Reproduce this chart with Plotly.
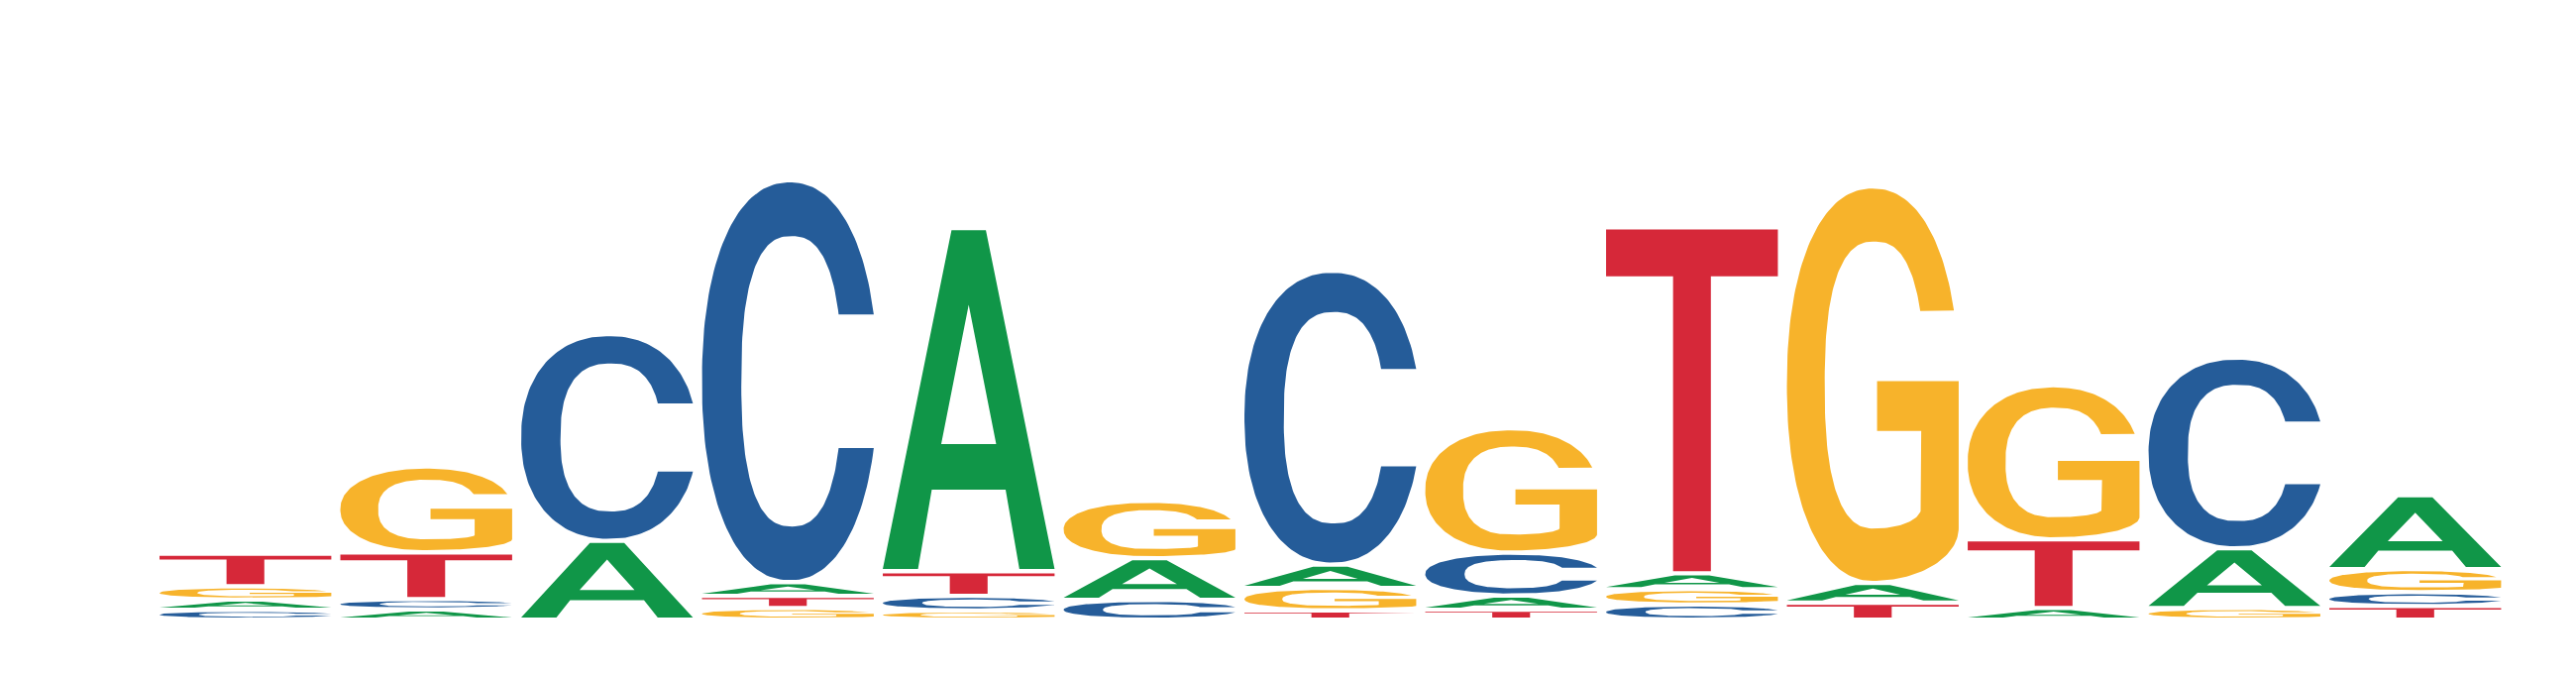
import numpy as np
import plotly.graph_objects as go

# sequence logo, 13 positions, letter heights in bits
positions = list(range(1, 14))
bits_A = [0.033, 0.033, 0.255, 0.044, 1.111, 0.135, 0.075, 0.046, 0.051, 0.064, 0.038, 0.193, 0.239]
bits_C = [0.032, 0.034, 0.670, 1.302, 0.047, 0.064, 0.952, 0.139, 0.049, 0.0, 0.0, 0.618, 0.045]
bits_G = [0.043, 0.278, 0.0, 0.038, 0.030, 0.186, 0.073, 0.403, 0.050, 1.284, 0.499, 0.038, 0.075]
bits_T = [0.106, 0.151, 0.0, 0.039, 0.080, 0.0, 0.030, 0.032, 1.121, 0.055, 0.222, 0.0, 0.044]

colors = {'A': '#109648', 'C': '#255C99', 'G': '#F7B32B', 'T': '#D62839'}

LETTER_W = 0.95   # share of a column taken by a letter
GAP = 0.0138      # padding on top of each letter, in bits
N_OUT = 2.2       # squareness of the round letters
N_IN = 2.5


def arc(cx, cy, rx, ry, t_from, t_to, n=80, p=2.0):
    # superellipse arc, p=2 is a plain ellipse
    t = np.radians(np.linspace(t_from, t_to, n))
    c, s = np.cos(t), np.sin(t)
    x = cx + rx * np.sign(c) * np.abs(c) ** (2 / p)
    y = cy + ry * np.sign(s) * np.abs(s) ** (2 / p)
    return list(x), list(y)


def term_angle(dy, ry, p):
    return np.degrees(np.arcsin((dy / ry) ** (p / 2)))


def glyph_A():
    xs = [0, 0.205, 0.285, 0.5, 0.5, 0.34, 0.5, 0.66, 0.5, 0.5, 0.715, 0.795, 1, 0.6, 0.4, 0]
    ys = [0, 0, 0.234, 0.234, 0.369, 0.369, 0.78, 0.369, 0.369, 0.234, 0.234, 0, 0, 1, 1, 0]
    return xs, ys


def glyph_T():
    xs = [0, 1, 1, 0.61, 0.61, 0.39, 0.39, 0, 0]
    ys = [1, 1, 0.863, 0.863, 0, 0, 0.863, 0.863, 1]
    return xs, ys


def glyph_C():
    dy = 0.168
    t0 = term_angle(dy, 0.5, N_OUT)
    t1 = term_angle(dy, 0.365, N_IN)
    ox, oy = arc(0.5, 0.5, 0.5, 0.5, t0, 360 - t0, 160, N_OUT)
    ix, iy = arc(0.51, 0.5, 0.286, 0.365, 360 - t1, t1, 160, N_IN)
    xs = ox + ix + [ox[0]]
    ys = oy + iy + [oy[0]]
    return xs, ys


def glyph_G():
    dy = 0.189
    t0 = term_angle(dy, 0.5, N_OUT)
    t1 = term_angle(dy, 0.366, N_IN)
    x1, y1 = arc(0.5, 0.5, 0.5, 0.5, t0, 270, 140, N_OUT)
    x2, y2 = arc(0.5, 0.135, 0.5, 0.135, 270, 360, 40)
    bx = [1.0, 0.525, 0.525, 0.782, 0.782]
    by = [0.509, 0.509, 0.382, 0.382, 0.186]
    x3, y3 = arc(0.51, 0.186, 0.272, 0.053, 0, -90, 30)
    x4, y4 = arc(0.51, 0.499, 0.29, 0.366, 270, t1, 140, N_IN)
    xs = x1 + x2 + bx + x3 + x4 + [x1[0]]
    ys = y1 + y2 + by + y3 + y4 + [y1[0]]
    return xs, ys


glyphs = {'A': glyph_A(), 'C': glyph_C(), 'G': glyph_G(), 'T': glyph_T()}
for k, (gx, gy) in glyphs.items():
    gx = np.array(gx)
    gy = np.array(gy)
    glyphs[k] = ((gx - gx.min()) / (gx.max() - gx.min()), (gy - gy.min()) / (gy.max() - gy.min()))

fig = go.Figure()

for i, pos in enumerate(positions):
    col = {'A': bits_A[i], 'C': bits_C[i], 'G': bits_G[i], 'T': bits_T[i]}
    base = 0.0
    for letter, h in sorted(col.items(), key=lambda kv: kv[1]):
        if h <= 0:
            continue
        vis = h - GAP
        if vis > 0:
            gx, gy = glyphs[letter]
            fig.add_trace(go.Scatter(
                x=pos - LETTER_W / 2 + gx * LETTER_W,
                y=base + gy * vis,
                mode='lines',
                line=dict(width=0, color=colors[letter]),
                fill='toself',
                fillcolor=colors[letter],
                hoverinfo='skip',
                showlegend=False,
            ))
        base += h

# page body adds an 8px margin, so the figure is 8px smaller each way
fig.update_layout(
    width=2592,
    height=676,
    margin=dict(l=0, r=0, t=0, b=61, pad=0),
    paper_bgcolor='white',
    plot_bgcolor='white',
    showlegend=False,
)
fig.update_xaxes(range=[-0.3134, 13.889], visible=False, showgrid=False, zeroline=False)
fig.update_yaxes(range=[0, 1.9743], visible=False, showgrid=False, zeroline=False)

fig.write_html("out.html")
